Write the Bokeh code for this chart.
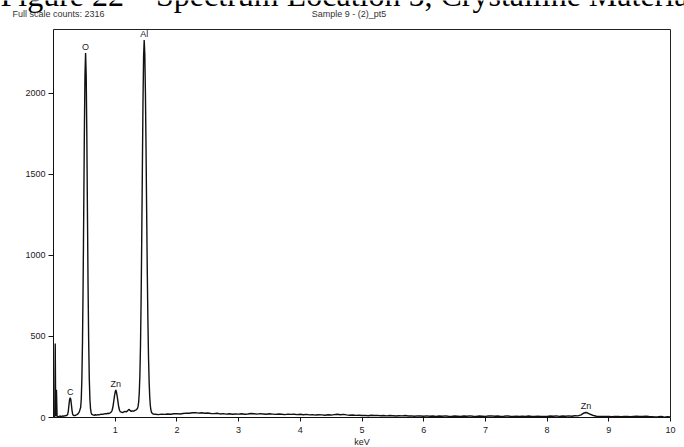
from bokeh.plotting import figure
from bokeh.models import Range1d, FixedTicker, ColumnDataSource, LinearAxis
from bokeh.core.properties import value
from bokeh.embed import file_html
from bokeh.resources import INLINE

# ---- data ----
energy_kev = [
    0.00, 0.02, 0.028, 0.036, 0.048, 0.058, 0.07, 0.09, 0.11, 0.13, 0.15, 0.17, 0.19, 0.21,
    0.22, 0.23, 0.24, 0.25, 0.26, 0.27, 0.28, 0.29, 0.30, 0.31, 0.32, 0.34, 0.36, 0.38, 0.40, 0.42, 0.43,
    0.44, 0.45, 0.46, 0.47, 0.48, 0.49, 0.50, 0.51, 0.52, 0.53, 0.54, 0.55, 0.56, 0.57, 0.58, 0.59, 0.60, 0.61, 0.62,
    0.64, 0.66, 0.68, 0.70, 0.72, 0.74, 0.76, 0.78, 0.80, 0.82, 0.84, 0.86, 0.88, 0.90, 0.92, 0.94,
    0.95, 0.96, 0.97, 0.98, 0.99, 1.00, 1.01, 1.02, 1.03, 1.04, 1.05, 1.06, 1.07, 1.08,
    1.10, 1.12, 1.14, 1.16, 1.18, 1.20, 1.22, 1.24, 1.26, 1.28, 1.30, 1.32, 1.34,
    1.36, 1.37, 1.38, 1.39, 1.40, 1.41, 1.42, 1.43, 1.44, 1.45, 1.46, 1.47,
    1.48, 1.49, 1.50, 1.51, 1.52, 1.53, 1.54, 1.55, 1.56, 1.57, 1.58, 1.59, 1.60, 1.62,
    1.65, 1.70, 1.75, 1.80, 1.85, 1.90, 1.95, 2.00, 2.05, 2.10, 2.15, 2.20, 2.25, 2.30, 2.35, 2.40,
    2.45, 2.50, 2.55, 2.60, 2.65, 2.70, 2.75, 2.80, 2.85, 2.90, 2.95, 3.00, 3.05, 3.10, 3.15, 3.20,
    3.25, 3.30, 3.35, 3.40, 3.45, 3.50, 3.55, 3.60, 3.65, 3.70, 3.75, 3.80, 3.85, 3.90, 3.95, 4.00,
    4.05, 4.10, 4.15, 4.20, 4.25, 4.30, 4.35, 4.40, 4.45, 4.50, 4.55, 4.60, 4.65, 4.70, 4.75, 4.80,
    4.85, 4.90, 4.95, 5.00, 5.05, 5.10, 5.15, 5.20, 5.25, 5.30, 5.35, 5.40, 5.45, 5.50, 5.55, 5.60,
    5.65, 5.70, 5.75, 5.80, 5.85, 5.90, 5.95, 6.00, 6.05, 6.10, 6.15, 6.20, 6.25, 6.30, 6.35, 6.40,
    6.45, 6.50, 6.55, 6.60, 6.65, 6.70, 6.75, 6.80, 6.85, 6.90, 6.95, 7.00, 7.05, 7.10, 7.15, 7.20,
    7.25, 7.30, 7.35, 7.40, 7.45, 7.50, 7.55, 7.60, 7.65, 7.70, 7.75, 7.80, 7.85, 7.90, 7.95, 8.00,
    8.05, 8.10, 8.15, 8.20, 8.25, 8.30, 8.35, 8.40, 8.45, 8.50, 8.55, 8.60, 8.63, 8.65, 8.70, 8.75,
    8.80, 8.85, 8.90, 8.95, 9.00, 9.05, 9.10, 9.15, 9.20, 9.25, 9.30, 9.35, 9.40, 9.45, 9.50, 9.55,
    9.60, 9.65, 9.70, 9.75, 9.80, 9.85, 9.90, 9.95, 10.00,
]
counts = [
    2, 4, 456, 10, 171, 6, 4, 7, 9, 6, 10, 8, 11, 12,
    14, 20, 40, 75, 108, 122, 112, 80, 44, 22, 14, 11, 14, 18, 24, 36, 50,
    62, 113, 240, 470, 820, 1273, 1747, 2111, 2250, 2111, 1747, 1273, 820, 470, 240, 113, 55, 30, 20,
    16, 14, 17, 15, 18, 16, 19, 21, 19, 22, 24, 23, 26, 25, 29, 36,
    45, 60, 83, 110, 137, 157, 170, 157, 137, 110, 83, 60, 45, 37,
    33, 30, 34, 38, 35, 41, 50, 44, 38, 41, 39, 44, 47,
    56, 67, 94, 151, 259, 444, 726, 1098, 1523, 1932, 2225, 2330,
    2241, 1999, 1653, 1266, 902, 598, 372, 220, 125, 71, 44, 31, 25, 21,
    20, 18, 21, 19, 22, 20, 23, 24, 22, 25, 27, 26, 29, 30, 27, 29,
    26, 28, 25, 24, 26, 22, 24, 21, 23, 20, 22, 21, 23, 20, 22, 25,
    23, 21, 24, 22, 20, 23, 21, 19, 22, 20, 18, 21, 19, 20, 18, 20,
    17, 19, 16, 18, 15, 17, 16, 14, 17, 15, 18, 20, 17, 19, 16, 14,
    15, 13, 14, 12, 13, 11, 14, 12, 13, 11, 12, 10, 12, 11, 9, 11,
    10, 12, 9, 10, 8, 10, 9, 8, 10, 8, 9, 7, 9, 8, 10, 8,
    7, 9, 8, 7, 9, 8, 10, 8, 7, 9, 8, 7, 9, 10, 8, 9,
    7, 8, 10, 8, 7, 8, 6, 8, 7, 9, 7, 6, 8, 7, 6, 7,
    9, 8, 10, 7, 9, 8, 10, 8, 11, 10, 16, 28, 31, 29, 20, 12,
    8, 7, 6, 7, 6, 5, 7, 6, 5, 7, 6, 5, 7, 8, 6, 7,
    8, 6, 5, 4, 5, 7, 2, 5, 4,
]

peak_labels = ["C", "O", "Zn", "Al", "Zn"]
peak_kev = [0.27, 0.52, 1.01, 1.47, 8.63]

x_ticks = [1, 2, 3, 4, 5, 6, 7, 8, 9, 10]
y_ticks = [0, 500, 1000, 1500, 2000]
X_MIN, X_MAX = 0, 10
Y_MIN, Y_MAX = 0, 2395

title_text = "Figure 22 \u2013 Spectrum Location 5, Crystalline Material"
full_scale_text = "Full scale counts: 2316"
sample_text = "Sample 9 - (2)_pt5"
x_label = "keV"

# label heights taken from the spectrum itself
def peak_height(e):
    return max(c for x, c in zip(energy_kev, counts) if abs(x - e) <= 0.03)

peak_counts = [peak_height(e) for e in peak_kev]

# ---- page geometry (pixels) ----
W, H = 684, 447
BOX_L, BOX_R, BOX_T, BOX_B = 53, 670, 29, 417
kx = (BOX_R - BOX_L) / (X_MAX - X_MIN)
ky = (BOX_B - BOX_T) / (Y_MAX - Y_MIN)

def px_x(px):
    return X_MIN + (px - BOX_L) / kx

def px_y(py):
    return Y_MIN + (BOX_B - py) / ky

SMALL = "Liberation Sans"
INK = "#1a1a1a"

p = figure(width=W, height=H, output_backend="svg", toolbar_location=None,
           x_range=Range1d(px_x(0), px_x(W)), y_range=Range1d(px_y(H), px_y(0)),
           min_border_left=0, min_border_right=0, min_border_top=0, min_border_bottom=0)
p.background_fill_color = "white"
p.border_fill_color = "white"
p.outline_line_color = None
p.grid.visible = False

# spectrum
p.line(energy_kev, counts, line_color="#111111", line_width=1.4)

# peak labels
src = ColumnDataSource(dict(x=peak_kev, y=peak_counts, t=peak_labels))
p.text(x="x", y="y", text="t", source=src, text_align="center", text_baseline="bottom",
       y_offset=-1, text_font=value(SMALL), text_font_size="9px", text_color=INK)

# axes fixed at the data origin
xa = p.xaxis[0]
ya = p.yaxis[0]
xa.fixed_location = Y_MIN
ya.fixed_location = X_MIN
xa.bounds = (X_MIN, X_MAX)
ya.bounds = (Y_MIN, Y_MAX)
for ax in (xa, ya):
    ax.axis_line_color = "#111111"
    ax.major_tick_line_color = "#111111"
    ax.major_tick_in = 0
    ax.major_tick_out = 5
    ax.minor_tick_line_color = None
    ax.major_label_text_font = SMALL
    ax.major_label_text_font_size = "9px"
    ax.major_label_text_color = INK
xa.ticker = FixedTicker(ticks=x_ticks)
ya.ticker = FixedTicker(ticks=y_ticks)
xa.major_tick_out = 4
xa.major_label_standoff = 5
ya.major_label_standoff = 3
xa.axis_label = x_label
xa.axis_label_text_font = SMALL
xa.axis_label_text_font_size = "9px"
xa.axis_label_text_font_style = "normal"
xa.axis_label_text_color = INK
xa.axis_label_standoff = 1

# closing lines of the box (top and right), no ticks
top = LinearAxis(fixed_location=Y_MAX, bounds=(X_MIN, X_MAX), ticker=FixedTicker(ticks=[]),
                 axis_line_color="#222222", major_tick_line_color=None, minor_tick_line_color=None,
                 major_label_text_font_size="0px")
right = LinearAxis(fixed_location=X_MAX, bounds=(Y_MIN, Y_MAX), ticker=FixedTicker(ticks=[]),
                   axis_line_color="#222222", major_tick_line_color=None, minor_tick_line_color=None,
                   major_label_text_font_size="0px")
p.add_layout(top, "above")
p.add_layout(right, "right")

# page header (the big caption is cut off by the top edge, as in the source)
p.text(x=[px_x(0)], y=[px_y(-6)], text=[title_text], text_font=value("Liberation Serif"),
       text_font_size="32px", text_baseline="alphabetic", text_align="left", text_color="black")
p.text(x=[px_x(12)], y=[px_y(13)], text=[full_scale_text], text_font=value(SMALL),
       text_font_size="9px", text_baseline="alphabetic", text_align="left", text_color="#333333")
p.text(x=[px_x(348.5)], y=[px_y(13)], text=[sample_text], text_font=value(SMALL),
       text_font_size="9px", text_baseline="alphabetic", text_align="center", text_color="#333333")

open("out.html", "w").write(file_html(p, INLINE))
